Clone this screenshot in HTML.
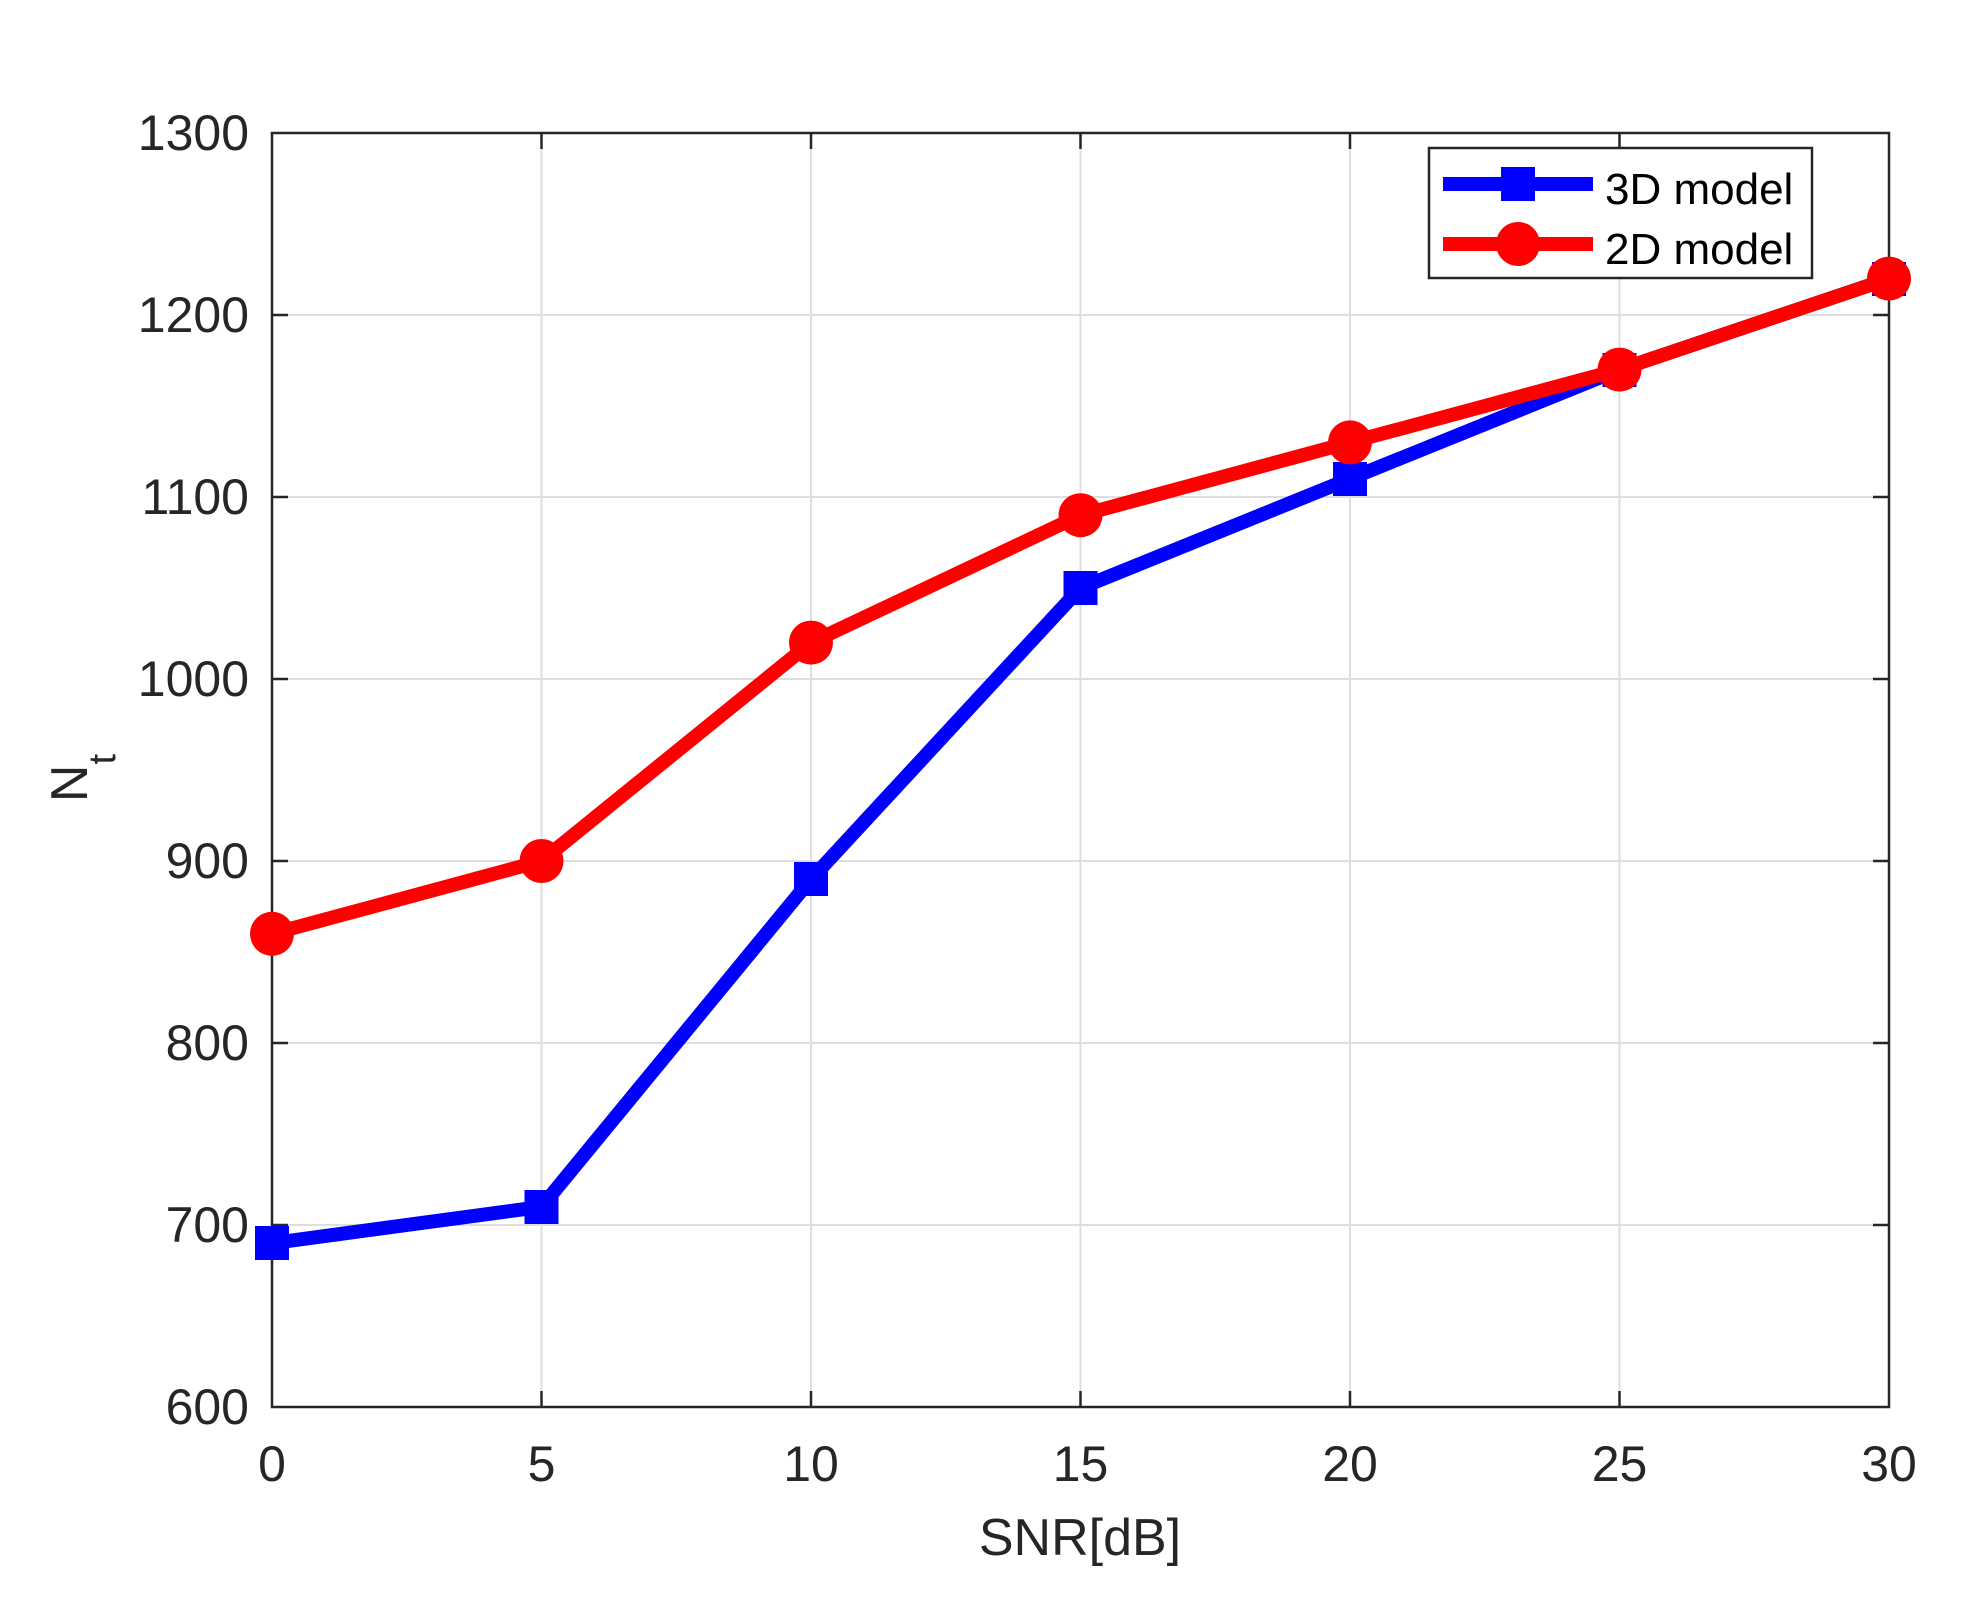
<!DOCTYPE html>
<html><head><style>html,body{margin:0;padding:0;background:#fff;}</style></head>
<body>
<svg width="1985" height="1606" viewBox="0 0 1985 1606" xmlns="http://www.w3.org/2000/svg" font-family="Liberation Sans, Arial, sans-serif">
<rect width="1985" height="1606" fill="#fff"/>
<g stroke="#dedede" stroke-width="2">
<line x1="541.5" y1="133" x2="541.5" y2="1407"/><line x1="811" y1="133" x2="811" y2="1407"/>
<line x1="1080.5" y1="133" x2="1080.5" y2="1407"/><line x1="1350" y1="133" x2="1350" y2="1407"/>
<line x1="1619.5" y1="133" x2="1619.5" y2="1407"/>
<line x1="272" y1="1225" x2="1889" y2="1225"/><line x1="272" y1="1043" x2="1889" y2="1043"/>
<line x1="272" y1="861" x2="1889" y2="861"/><line x1="272" y1="679" x2="1889" y2="679"/>
<line x1="272" y1="497" x2="1889" y2="497"/><line x1="272" y1="315" x2="1889" y2="315"/>
</g>
<g stroke="#262626" stroke-width="2.5">
<rect x="272" y="133" width="1617" height="1274" fill="none"/>
<path d="M541.5 1407v-16M811 1407v-16M1080.5 1407v-16M1350 1407v-16M1619.5 1407v-16M541.5 133v16M811 133v16M1080.5 133v16M1350 133v16M1619.5 133v16"/>
<path d="M272 1225h16M272 1043h16M272 861h16M272 679h16M272 497h16M272 315h16M1889 1225h-16M1889 1043h-16M1889 861h-16M1889 679h-16M1889 497h-16M1889 315h-16"/>
</g>
<g fill="#262626" font-size="50" text-anchor="end">
<text x="249" y="150">1300</text><text x="249" y="332">1200</text><text x="249" y="514">1100</text>
<text x="249" y="696">1000</text><text x="249" y="878">900</text><text x="249" y="1060">800</text>
<text x="249" y="1242">700</text><text x="249" y="1424">600</text>
</g>
<g fill="#262626" font-size="50" text-anchor="middle">
<text x="272" y="1481">0</text><text x="541.5" y="1481">5</text><text x="811" y="1481">10</text>
<text x="1080.5" y="1481">15</text><text x="1350" y="1481">20</text><text x="1619.5" y="1481">25</text>
<text x="1889" y="1481">30</text>
<text x="1080" y="1555" font-size="52">SNR[dB]</text>
</g>
<text transform="translate(87,778) rotate(-90)" fill="#262626" font-size="52" text-anchor="middle">N<tspan font-size="38" dy="28">t</tspan></text>
<polyline fill="none" stroke="#0000ff" stroke-width="14" stroke-linejoin="round" points="272,1243.2 541.5,1206.8 811,879.2 1080.5,588 1350,478.8 1619.5,369.6 1889,278.6"/>
<g fill="#0000ff">
<rect x="255" y="1226" width="34" height="34"/><rect x="524.5" y="1190" width="34" height="34"/>
<rect x="794" y="862" width="34" height="34"/><rect x="1063.5" y="571" width="34" height="34"/>
<rect x="1333" y="462" width="34" height="34"/><rect x="1602.5" y="353" width="34" height="34"/>
<rect x="1872" y="262" width="34" height="34"/>
</g>
<polyline fill="none" stroke="#ff0000" stroke-width="14" stroke-linejoin="round" points="272,933.8 541.5,861 811,642.6 1080.5,515.2 1350,442.4 1619.5,369.6 1889,278.6"/>
<g fill="#ff0000">
<circle cx="272" cy="933.8" r="22"/><circle cx="541.5" cy="861" r="22"/><circle cx="811" cy="642.6" r="22"/>
<circle cx="1080.5" cy="515.2" r="22"/><circle cx="1350" cy="442.4" r="22"/><circle cx="1619.5" cy="369.6" r="22"/>
<circle cx="1889" cy="278.6" r="22"/>
</g>
<rect x="1429" y="148" width="383" height="130" fill="#fff" stroke="#262626" stroke-width="2.5"/>
<line x1="1443" y1="184" x2="1593" y2="184" stroke="#0000ff" stroke-width="14"/>
<rect x="1501" y="167" width="34" height="34" fill="#0000ff"/>
<line x1="1443" y1="244" x2="1593" y2="244" stroke="#ff0000" stroke-width="14"/>
<circle cx="1518" cy="244" r="22" fill="#ff0000"/>
<g fill="#000" font-size="44"><text x="1605" y="204">3D model</text><text x="1605" y="264">2D model</text></g>
</svg>
</body></html>
